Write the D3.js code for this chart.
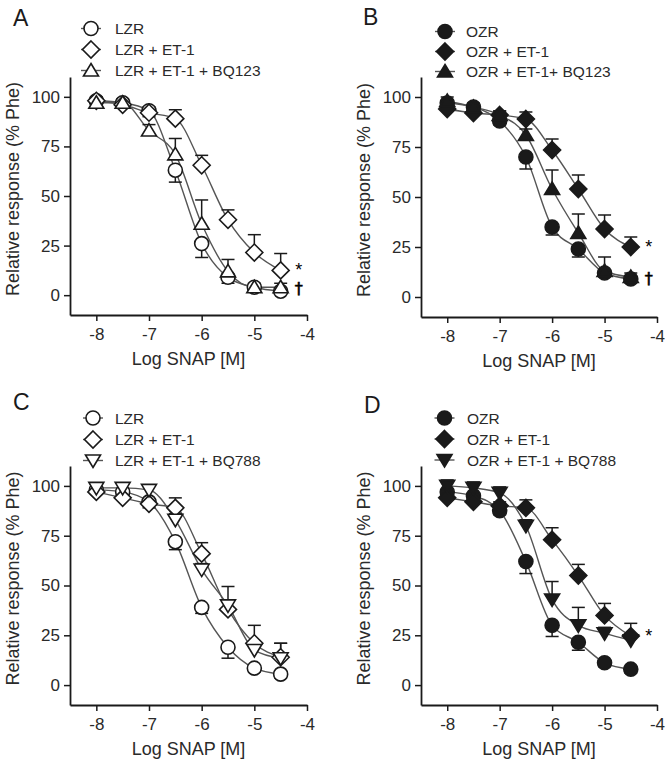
<!DOCTYPE html>
<html><head><meta charset="utf-8">
<script src="https://cdn.jsdelivr.net/npm/d3@7"></script>
<style>body{margin:0;background:#fff}svg{display:block}</style>
</head><body>
<svg id="chart" width="670" height="762"></svg>
<script>
// ---------- DATA ----------
const logSNAP = [-8, -7.5, -7, -6.5, -6, -5.5, -5, -4.5];
const xTicks = [-8, -7, -6, -5, -4];
const yTicks = [0, 25, 50, 75, 100];
const xTitle = "Log SNAP [M]";
const yTitle = "Relative response (% Phe)";
const panelLetters = ["A", "B", "C", "D"];

// Panel A
const A_LZR      = [98, 97, 93, 63, 26, 9, 4, 2];
const A_LZR_sem  = [2, 2, 3, 6, 7, 3, 2, 1];
const A_ET1      = [98, 96, 92, 89, 65.5, 38, 21.5, 12.5];
const A_ET1_sem  = [2, 2, 3, 4.5, 5, 5, 9, 8.5];
const A_BQ123    = [97, 97, 83, 71, 36, 12, 4, 4];
const A_BQ123_sem= [2, 2, 3, 8, 12, 6, 2, 2];
const A_legend   = ["LZR", "LZR + ET-1", "LZR + ET-1 + BQ123"];
const A_marks    = ["*", "\u2020"];

// Panel B
const B_OZR      = [97, 95, 88, 70, 35, 24, 12, 9];
const B_OZR_sem  = [2, 2, 2, 6, 4, 4, 2, 2];
const B_ET1      = [94, 92, 91, 89, 73.5, 54, 34, 25];
const B_ET1_sem  = [2, 2, 2, 3.5, 5.5, 7, 7, 5];
const B_BQ123    = [98, 95, 91, 81, 54, 32, 13, 10];
const B_BQ123_sem= [2, 2, 2, 3, 9.5, 9.5, 7, 2];
const B_legend   = ["OZR", "OZR + ET-1", "OZR + ET-1+ BQ123"];
const B_marks    = ["*", "\u2020"];

// Panel C
const C_LZR      = [98, 97, 92, 72, 39, 19, 8.5, 5.5];
const C_LZR_sem  = [2, 2, 3, 4, 3, 5.5, 2, 2];
const C_ET1      = [97, 94, 91, 89, 66, 38, 21, 14];
const C_ET1_sem  = [2, 2, 2, 5, 5.5, 4, 9, 7];
const C_BQ788    = [99, 99, 98, 83, 58, 40, 17.6, 13.5];
const C_BQ788_sem= [2, 2, 2, 3, 3, 9.5, 3, 7.5];
const C_legend   = ["LZR", "LZR + ET-1", "LZR + ET-1 + BQ788"];
const C_marks    = [];

// Panel D
const D_OZR      = [97, 95, 87.5, 62, 30, 21.5, 11.2, 8];
const D_OZR_sem  = [2, 2, 2, 6, 5.6, 4, 2, 2];
const D_ET1      = [94, 92, 90, 89, 73, 55, 35, 24.6];
const D_ET1_sem  = [2, 2, 2, 4, 6, 5.6, 6, 6.4];
const D_BQ788    = [100, 99, 96.5, 80, 43, 30, 26, 22.5];
const D_BQ788_sem= [3, 3, 3, 3, 9, 9, 3, 3];
const D_legend   = ["OZR", "OZR + ET-1", "OZR + ET-1 + BQ788"];
const D_marks    = ["*"];

// ---------- LAYOUT / STYLE ----------
const layout = [
  {left:70,  right:307, top:77,  bottom:315, symX:91,    symY:[28.5,49.5,70.5], textX:115, letX:13,  letY:26},
  {left:421, right:657, top:77,  bottom:317, symX:445,   symY:[31.5,51.5,71.5], textX:466, letX:363, letY:25},
  {left:70,  right:307, top:466, bottom:705, symX:93,    symY:[418,439.5,460.5], textX:115, letX:13,  letY:410},
  {left:421, right:657, top:466, bottom:705, symX:444.5, symY:[418,439,460],    textX:467, letX:364, letY:413}
];

const panels = [
  {filled:false, shapes:["circle","diamond","triangle"],
   series:[[A_LZR,A_LZR_sem,-1],[A_ET1,A_ET1_sem,1],[A_BQ123,A_BQ123_sem,1]],
   legend:A_legend, marks:A_marks, markSeries:[1,2]},
  {filled:true, shapes:["circle","diamond","triangle"],
   series:[[B_OZR,B_OZR_sem,-1],[B_ET1,B_ET1_sem,1],[B_BQ123,B_BQ123_sem,1]],
   legend:B_legend, marks:B_marks, markSeries:[1,2]},
  {filled:false, shapes:["circle","diamond","triangleDown"],
   series:[[C_LZR,C_LZR_sem,-1],[C_ET1,C_ET1_sem,1],[C_BQ788,C_BQ788_sem,1]],
   legend:C_legend, marks:C_marks, markSeries:[]},
  {filled:true, shapes:["circle","diamond","triangleDown"],
   series:[[D_OZR,D_OZR_sem,-1],[D_ET1,D_ET1_sem,1],[D_BQ788,D_BQ788_sem,1]],
   legend:D_legend, marks:D_marks, markSeries:[1]}
];

const FONT = "'Liberation Sans', Arial, Helvetica, sans-serif";
const INK = "#1a1a1a";
const LINE = "#555";

function shapePath(type) {
  switch (type) {
    case "diamond": return "M0,-8.5L8.5,0L0,8.5L-8.5,0Z";
    case "triangle": return "M0,-7L7.5,5.5L-7.5,5.5Z";
    case "triangleDown": return "M0,7L7.5,-5.5L-7.5,-5.5Z";
    default: return "M7,0A7,7 0 1,1 -7,0A7,7 0 1,1 7,0Z";
  }
}

const svg = d3.select("#chart");

panels.forEach((p, pi) => {
  const L = layout[pi];
  const x = d3.scaleLinear().domain([-8.5, -4]).range([L.left, L.right]);
  const y = d3.scaleLinear().domain([-10, 110]).range([L.bottom, L.top]);
  const g = svg.append("g");

  // panel letter
  g.append("text").attr("x", L.letX).attr("y", L.letY)
    .attr("font-family", FONT).attr("font-size", 23).attr("fill", INK)
    .text(panelLetters[pi]);

  // axes
  const xa = g.append("g").attr("transform", `translate(0,${L.bottom})`)
    .call(d3.axisBottom(x).tickValues(xTicks).tickFormat(d => String(d))
      .tickSizeOuter(0).tickSizeInner(6).tickPadding(7));
  const ya = g.append("g").attr("transform", `translate(${L.left},0)`)
    .call(d3.axisLeft(y).tickValues(yTicks).tickFormat(d => String(d))
      .tickSizeOuter(0).tickSizeInner(6).tickPadding(4));
  [xa, ya].forEach(a => {
    a.select(".domain").attr("stroke", INK).attr("stroke-width", 1.8);
    a.selectAll(".tick line").attr("stroke", INK).attr("stroke-width", 1.5);
    a.selectAll(".tick text").attr("font-family", FONT).attr("font-size", 17).attr("fill", "#2a2a2a");
  });

  // axis titles
  g.append("text").attr("x", (L.left + L.right) / 2).attr("y", L.bottom + 50)
    .attr("text-anchor", "middle").attr("font-family", FONT).attr("font-size", 18)
    .attr("fill", "#2a2a2a").text(xTitle);
  g.append("text")
    .attr("transform", `translate(${L.left - 51},${(L.top + L.bottom) / 2 - 7}) rotate(-90)`)
    .attr("text-anchor", "middle").attr("font-family", FONT).attr("font-size", 18)
    .attr("fill", "#2a2a2a").text(yTitle);

  const lineGen = d3.line().x(d => x(d[0])).y(d => y(d[1])).curve(d3.curveMonotoneX);
  const fill = p.filled ? INK : "#fff";

  // lines
  p.series.forEach(s => {
    const pts = logSNAP.map((v, i) => [v, s[0][i]]);
    g.append("path").attr("d", lineGen(pts)).attr("fill", "none")
      .attr("stroke", LINE).attr("stroke-width", 1.4);
  });
  // error bars
  p.series.forEach(s => {
    logSNAP.forEach((v, i) => {
      const yv = s[0][i], e = s[1][i], dir = s[2];
      const y2 = y(yv + dir * e);
      g.append("line").attr("x1", x(v)).attr("x2", x(v)).attr("y1", y(yv)).attr("y2", y2)
        .attr("stroke", INK).attr("stroke-width", 1.5);
      g.append("line").attr("x1", x(v) - 6.5).attr("x2", x(v) + 6.5).attr("y1", y2).attr("y2", y2)
        .attr("stroke", INK).attr("stroke-width", 1.5);
    });
  });
  // markers
  p.series.forEach((s, si) => {
    g.selectAll(null).data(logSNAP.map((v, i) => [v, s[0][i]])).enter()
      .append("path").attr("d", shapePath(p.shapes[si]))
      .attr("transform", d => `translate(${x(d[0])},${y(d[1])})`)
      .attr("fill", fill).attr("stroke", INK).attr("stroke-width", 1.6);
  });

  // significance marks
  p.marks.forEach((m, mi) => {
    const s = p.series[p.markSeries[mi]];
    const last = s[0][s[0].length - 1];
    const lx = x(logSNAP[logSNAP.length - 1]) + 18;
    const isStar = m === "*";
    g.append("text").attr("x", lx).attr("y", y(last) + (isStar ? 6 : 7))
      .attr("text-anchor", "middle")
      .attr("font-family", isStar ? FONT : "'DejaVu Sans', sans-serif")
      .attr("font-size", isStar ? 18 : 16).attr("fill", "#000")
      .attr("stroke", isStar ? "none" : "#000").attr("stroke-width", isStar ? 0 : 0.6)
      .text(m);
  });

  // legend
  p.legend.forEach((lab, li) => {
    const cy = L.symY[li];
    g.append("line").attr("x1", L.symX - 10).attr("x2", L.symX + 10)
      .attr("y1", cy).attr("y2", cy).attr("stroke", LINE).attr("stroke-width", 1.4);
    g.append("path").attr("d", shapePath(p.shapes[li]))
      .attr("transform", `translate(${L.symX},${cy})`)
      .attr("fill", fill).attr("stroke", INK).attr("stroke-width", 1.6);
    g.append("text").attr("x", L.textX).attr("y", cy + 5.5)
      .attr("font-family", FONT).attr("font-size", 15.5).attr("fill", "#2a2a2a").text(lab);
  });
});
</script>
</body></html>
